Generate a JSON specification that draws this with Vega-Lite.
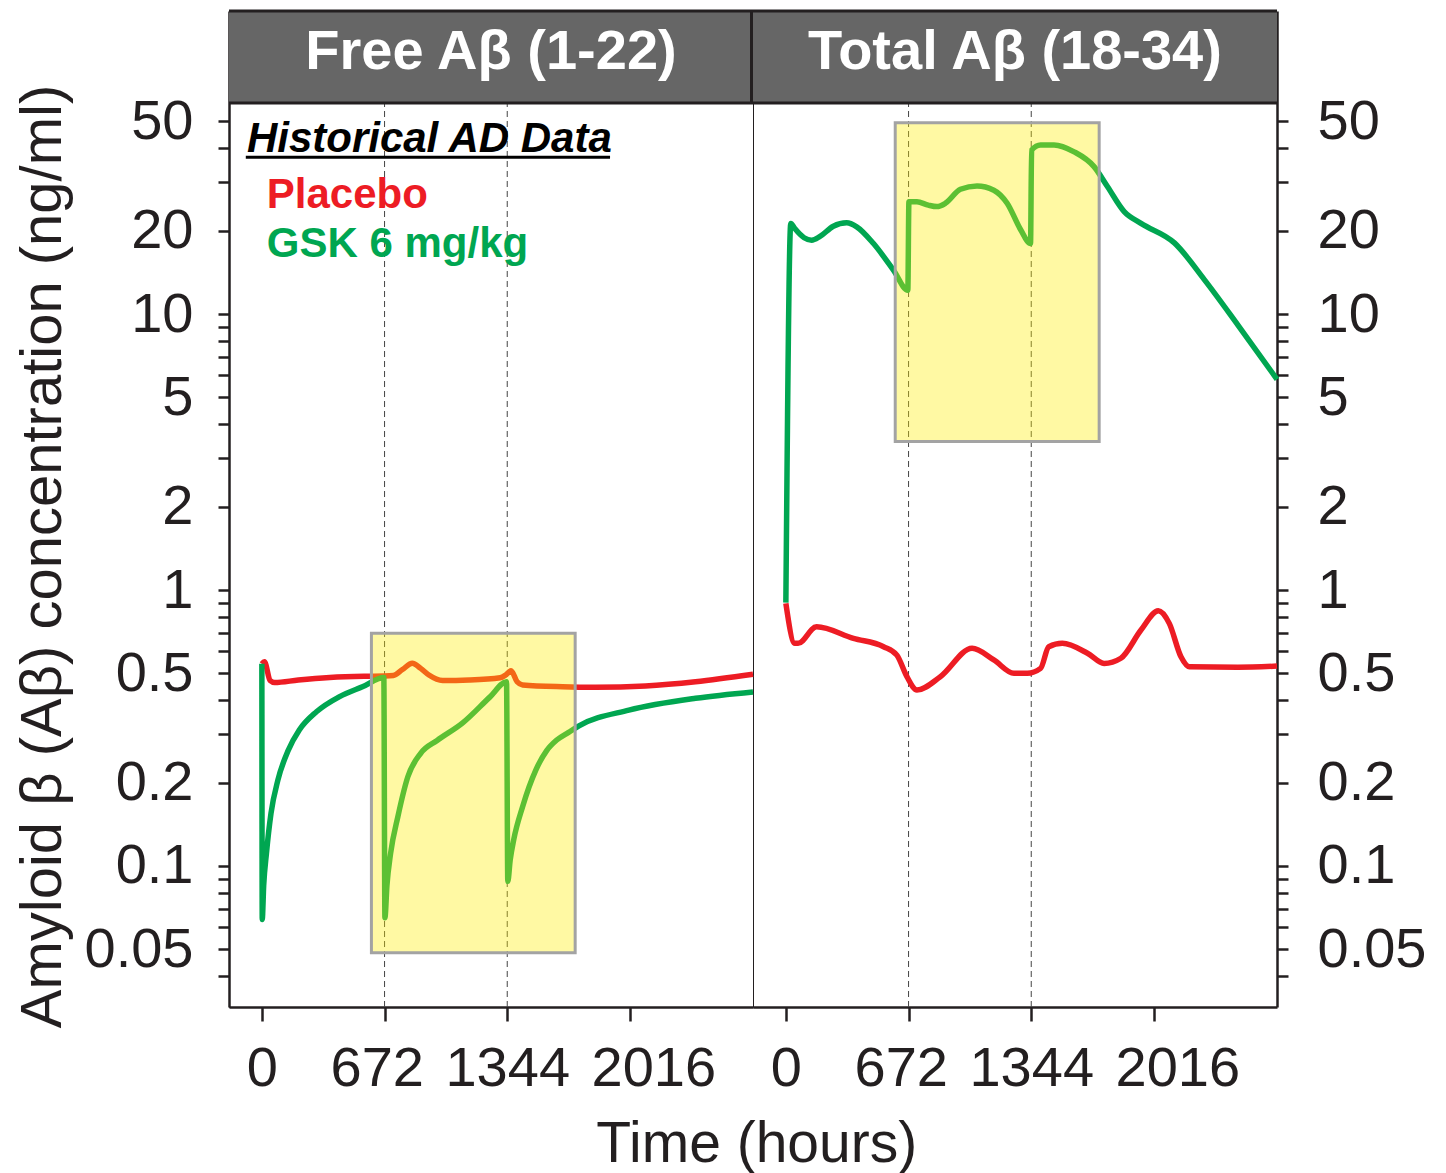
{
  "$schema": "https://vega.github.io/schema/vega-lite/v6.json",
  "padding": {"left": 13, "top": 9, "right": 5, "bottom": 5},
  "background": "white",
  "spacing": 0,
  "bounds": "flush",
  "title": {"text": "Time (hours)", "orient": "bottom", "anchor": "middle", "font": "Liberation Sans", "fontSize": 57, "fontWeight": "normal", "color": "#231f20", "offset": 20, "dx": 37},
  "config": {
    "font": "Liberation Sans",
    "concat": {"spacing": 0},
    "view": {"stroke": "#231f20", "strokeWidth": 1},
    "axis": {"grid": false, "domainColor": "#231f20", "domainWidth": 2.5, "tickColor": "#231f20", "tickWidth": 2.5, "labelColor": "#231f20", "labelFontSize": 56, "labelFont": "Liberation Sans", "titleFont": "Liberation Sans", "titleFontSize": 58, "titleFontWeight": "normal", "titleColor": "#231f20", "labelOverlap": false, "labelFlush": false}
  },
  "datasets": {
    "headers": [
      {"panel": "free", "label": "Free Aβ (1-22)"},
      {"panel": "total", "label": "Total Aβ (18-34)"}
    ],
    "vlines": [{"hours": 672}, {"hours": 1344}],
    "boxes": [
      {"panel": "free", "x1": 600, "x2": 1716, "y1": 0.0485, "y2": 0.697},
      {"panel": "total", "x1": 599, "x2": 1716, "y1": 3.45, "y2": 49.3}
    ],
    "heading": [{"hours": -82, "conc": 38.6, "text": "Historical AD Data", "series": "Historical AD Data"}],
    "underline": [{"hours": -88, "hours2": 1907, "conc": 37.0}],
    "keys": [
      {"hours": 27, "conc": 24.2, "text": "Placebo", "series": "Placebo"},
      {"hours": 27, "conc": 16.1, "text": "GSK 6 mg/kg", "series": "GSK 6 mg/kg"}
    ],
    "curves": [
      {"panel": "free", "series": "Placebo", "hours": 0, "conc": 0.54},
      {"panel": "free", "series": "Placebo", "hours": 14, "conc": 0.55},
      {"panel": "free", "series": "Placebo", "hours": 45, "conc": 0.47},
      {"panel": "free", "series": "Placebo", "hours": 70, "conc": 0.462},
      {"panel": "free", "series": "Placebo", "hours": 200, "conc": 0.472},
      {"panel": "free", "series": "Placebo", "hours": 372, "conc": 0.482},
      {"panel": "free", "series": "Placebo", "hours": 560, "conc": 0.487},
      {"panel": "free", "series": "Placebo", "hours": 672, "conc": 0.488},
      {"panel": "free", "series": "Placebo", "hours": 720, "conc": 0.49},
      {"panel": "free", "series": "Placebo", "hours": 770, "conc": 0.515},
      {"panel": "free", "series": "Placebo", "hours": 824, "conc": 0.543},
      {"panel": "free", "series": "Placebo", "hours": 870, "conc": 0.52},
      {"panel": "free", "series": "Placebo", "hours": 915, "conc": 0.492},
      {"panel": "free", "series": "Placebo", "hours": 990, "conc": 0.47},
      {"panel": "free", "series": "Placebo", "hours": 1136, "conc": 0.472},
      {"panel": "free", "series": "Placebo", "hours": 1305, "conc": 0.481},
      {"panel": "free", "series": "Placebo", "hours": 1335, "conc": 0.492},
      {"panel": "free", "series": "Placebo", "hours": 1365, "conc": 0.51},
      {"panel": "free", "series": "Placebo", "hours": 1398, "conc": 0.465},
      {"panel": "free", "series": "Placebo", "hours": 1428, "conc": 0.453},
      {"panel": "free", "series": "Placebo", "hours": 1646, "conc": 0.446},
      {"panel": "free", "series": "Placebo", "hours": 1828, "conc": 0.444},
      {"panel": "free", "series": "Placebo", "hours": 2101, "conc": 0.449},
      {"panel": "free", "series": "Placebo", "hours": 2375, "conc": 0.465},
      {"panel": "free", "series": "Placebo", "hours": 2690, "conc": 0.495},
      {"panel": "free", "series": "GSK 6 mg/kg", "hours": 0, "conc": 0.54},
      {"panel": "free", "series": "GSK 6 mg/kg", "hours": 2, "conc": 0.064},
      {"panel": "free", "series": "GSK 6 mg/kg", "hours": 10, "conc": 0.085},
      {"panel": "free", "series": "GSK 6 mg/kg", "hours": 25, "conc": 0.111},
      {"panel": "free", "series": "GSK 6 mg/kg", "hours": 50, "conc": 0.155},
      {"panel": "free", "series": "GSK 6 mg/kg", "hours": 88, "conc": 0.205},
      {"panel": "free", "series": "GSK 6 mg/kg", "hours": 145, "conc": 0.263},
      {"panel": "free", "series": "GSK 6 mg/kg", "hours": 205, "conc": 0.311},
      {"panel": "free", "series": "GSK 6 mg/kg", "hours": 299, "conc": 0.362},
      {"panel": "free", "series": "GSK 6 mg/kg", "hours": 426, "conc": 0.411},
      {"panel": "free", "series": "GSK 6 mg/kg", "hours": 554, "conc": 0.447},
      {"panel": "free", "series": "GSK 6 mg/kg", "hours": 668, "conc": 0.482},
      {"panel": "free", "series": "GSK 6 mg/kg", "hours": 674, "conc": 0.065},
      {"panel": "free", "series": "GSK 6 mg/kg", "hours": 685, "conc": 0.085},
      {"panel": "free", "series": "GSK 6 mg/kg", "hours": 705, "conc": 0.111},
      {"panel": "free", "series": "GSK 6 mg/kg", "hours": 745, "conc": 0.151},
      {"panel": "free", "series": "GSK 6 mg/kg", "hours": 800, "conc": 0.211},
      {"panel": "free", "series": "GSK 6 mg/kg", "hours": 870, "conc": 0.256},
      {"panel": "free", "series": "GSK 6 mg/kg", "hours": 960, "conc": 0.285},
      {"panel": "free", "series": "GSK 6 mg/kg", "hours": 1100, "conc": 0.33},
      {"panel": "free", "series": "GSK 6 mg/kg", "hours": 1250, "conc": 0.41},
      {"panel": "free", "series": "GSK 6 mg/kg", "hours": 1340, "conc": 0.465},
      {"panel": "free", "series": "GSK 6 mg/kg", "hours": 1347, "conc": 0.088},
      {"panel": "free", "series": "GSK 6 mg/kg", "hours": 1360, "conc": 0.105},
      {"panel": "free", "series": "GSK 6 mg/kg", "hours": 1380, "conc": 0.125},
      {"panel": "free", "series": "GSK 6 mg/kg", "hours": 1428, "conc": 0.164},
      {"panel": "free", "series": "GSK 6 mg/kg", "hours": 1501, "conc": 0.223},
      {"panel": "free", "series": "GSK 6 mg/kg", "hours": 1560, "conc": 0.262},
      {"panel": "free", "series": "GSK 6 mg/kg", "hours": 1615, "conc": 0.286},
      {"panel": "free", "series": "GSK 6 mg/kg", "hours": 1680, "conc": 0.305},
      {"panel": "free", "series": "GSK 6 mg/kg", "hours": 1737, "conc": 0.322},
      {"panel": "free", "series": "GSK 6 mg/kg", "hours": 2010, "conc": 0.367},
      {"panel": "free", "series": "GSK 6 mg/kg", "hours": 2375, "conc": 0.405},
      {"panel": "free", "series": "GSK 6 mg/kg", "hours": 2690, "conc": 0.427},
      {"panel": "total", "series": "Placebo", "hours": 0, "conc": 0.895},
      {"panel": "total", "series": "Placebo", "hours": 49, "conc": 0.641},
      {"panel": "total", "series": "Placebo", "hours": 67, "conc": 0.641},
      {"panel": "total", "series": "Placebo", "hours": 168, "conc": 0.736},
      {"panel": "total", "series": "Placebo", "hours": 370, "conc": 0.668},
      {"panel": "total", "series": "Placebo", "hours": 535, "conc": 0.623},
      {"panel": "total", "series": "Placebo", "hours": 608, "conc": 0.581},
      {"panel": "total", "series": "Placebo", "hours": 663, "conc": 0.485},
      {"panel": "total", "series": "Placebo", "hours": 718, "conc": 0.434},
      {"panel": "total", "series": "Placebo", "hours": 846, "conc": 0.485},
      {"panel": "total", "series": "Placebo", "hours": 1020, "conc": 0.615},
      {"panel": "total", "series": "Placebo", "hours": 1139, "conc": 0.558},
      {"panel": "total", "series": "Placebo", "hours": 1249, "conc": 0.499},
      {"panel": "total", "series": "Placebo", "hours": 1322, "conc": 0.499},
      {"panel": "total", "series": "Placebo", "hours": 1395, "conc": 0.52},
      {"panel": "total", "series": "Placebo", "hours": 1440, "conc": 0.623},
      {"panel": "total", "series": "Placebo", "hours": 1514, "conc": 0.641},
      {"panel": "total", "series": "Placebo", "hours": 1652, "conc": 0.59},
      {"panel": "total", "series": "Placebo", "hours": 1743, "conc": 0.542},
      {"panel": "total", "series": "Placebo", "hours": 1835, "conc": 0.566},
      {"panel": "total", "series": "Placebo", "hours": 1945, "conc": 0.716},
      {"panel": "total", "series": "Placebo", "hours": 2040, "conc": 0.841},
      {"panel": "total", "series": "Placebo", "hours": 2100, "conc": 0.757},
      {"panel": "total", "series": "Placebo", "hours": 2164, "conc": 0.573},
      {"panel": "total", "series": "Placebo", "hours": 2210, "conc": 0.527},
      {"panel": "total", "series": "Placebo", "hours": 2476, "conc": 0.525},
      {"panel": "total", "series": "Placebo", "hours": 2690, "conc": 0.53},
      {"panel": "total", "series": "GSK 6 mg/kg", "hours": 0, "conc": 0.9},
      {"panel": "total", "series": "GSK 6 mg/kg", "hours": 27, "conc": 21.3},
      {"panel": "total", "series": "GSK 6 mg/kg", "hours": 49, "conc": 20.4},
      {"panel": "total", "series": "GSK 6 mg/kg", "hours": 100, "conc": 18.9},
      {"panel": "total", "series": "GSK 6 mg/kg", "hours": 141, "conc": 18.5},
      {"panel": "total", "series": "GSK 6 mg/kg", "hours": 187, "conc": 19.1},
      {"panel": "total", "series": "GSK 6 mg/kg", "hours": 260, "conc": 20.8},
      {"panel": "total", "series": "GSK 6 mg/kg", "hours": 333, "conc": 21.4},
      {"panel": "total", "series": "GSK 6 mg/kg", "hours": 388, "conc": 20.7},
      {"panel": "total", "series": "GSK 6 mg/kg", "hours": 480, "conc": 18.0},
      {"panel": "total", "series": "GSK 6 mg/kg", "hours": 590, "conc": 14.4},
      {"panel": "total", "series": "GSK 6 mg/kg", "hours": 668, "conc": 12.2},
      {"panel": "total", "series": "GSK 6 mg/kg", "hours": 674, "conc": 25.5},
      {"panel": "total", "series": "GSK 6 mg/kg", "hours": 718, "conc": 25.5},
      {"panel": "total", "series": "GSK 6 mg/kg", "hours": 780, "conc": 24.8},
      {"panel": "total", "series": "GSK 6 mg/kg", "hours": 827, "conc": 24.5},
      {"panel": "total", "series": "GSK 6 mg/kg", "hours": 874, "conc": 25.2},
      {"panel": "total", "series": "GSK 6 mg/kg", "hours": 956, "conc": 28.3},
      {"panel": "total", "series": "GSK 6 mg/kg", "hours": 1047, "conc": 29.1},
      {"panel": "total", "series": "GSK 6 mg/kg", "hours": 1139, "conc": 28.1},
      {"panel": "total", "series": "GSK 6 mg/kg", "hours": 1212, "conc": 25.2},
      {"panel": "total", "series": "GSK 6 mg/kg", "hours": 1286, "conc": 20.2},
      {"panel": "total", "series": "GSK 6 mg/kg", "hours": 1340, "conc": 18.0},
      {"panel": "total", "series": "GSK 6 mg/kg", "hours": 1346, "conc": 39.3},
      {"panel": "total", "series": "GSK 6 mg/kg", "hours": 1395, "conc": 41.0},
      {"panel": "total", "series": "GSK 6 mg/kg", "hours": 1469, "conc": 41.0},
      {"panel": "total", "series": "GSK 6 mg/kg", "hours": 1579, "conc": 38.7},
      {"panel": "total", "series": "GSK 6 mg/kg", "hours": 1688, "conc": 34.2},
      {"panel": "total", "series": "GSK 6 mg/kg", "hours": 1762, "conc": 28.9},
      {"panel": "total", "series": "GSK 6 mg/kg", "hours": 1853, "conc": 23.5},
      {"panel": "total", "series": "GSK 6 mg/kg", "hours": 1945, "conc": 21.3},
      {"panel": "total", "series": "GSK 6 mg/kg", "hours": 2128, "conc": 18.1},
      {"panel": "total", "series": "GSK 6 mg/kg", "hours": 2293, "conc": 13.3},
      {"panel": "total", "series": "GSK 6 mg/kg", "hours": 2476, "conc": 9.12},
      {"panel": "total", "series": "GSK 6 mg/kg", "hours": 2690, "conc": 5.8}
    ]
  },
  "hconcat": [
    {
      "width": 524, "height": 996,
      "layer": [
        {
          "data": {"name": "vlines"},
          "mark": {"type": "rule", "strokeDash": [6, 4], "strokeWidth": 1, "color": "#444444"},
          "encoding": {
            "x": {"field": "hours", "type": "quantitative", "scale": {"domain": [-180, 2690], "nice": false, "zero": false}}
          }
        },
        {
          "data": {"name": "curves"},
          "transform": [{"filter": "datum.panel == 'free'"}],
          "mark": {"type": "line", "strokeWidth": 5.5, "interpolate": "monotone"},
          "encoding": {
            "x": {"field": "hours", "type": "quantitative", "scale": {"domain": [-180, 2690], "nice": false, "zero": false},
              "axis": {"values": [0, 672, 1344, 2016], "format": "d", "title": null, "tickSize": 14, "labelPadding": 20,
                "labelExpr": "datum.value == 2016 ? '\u200b\u00a0\u00a0\u00a02016' : datum.value == 672 ? '672\u00a0\u200b' : datum.label"}},
            "y": {"field": "conc", "type": "quantitative", "scale": {"type": "log", "domain": [0.03084, 125.28], "nice": false},
              "axis": {"orient": "left", "title": "Amyloid β (Aβ) concentration (ng/ml)", "titlePadding": 12, "titleY": 545,
                "values": [0.04, 0.05, 0.06, 0.07, 0.08, 0.09, 0.1, 0.2, 0.3, 0.4, 0.5, 0.6, 0.7, 0.8, 0.9, 1, 2, 3, 4, 5, 6, 7, 8, 9, 10, 20, 30, 40, 50],
                "labelExpr": "indexof([0.05, 0.1, 0.2, 0.5, 1, 2, 5, 10, 20, 50], datum.value) >= 0 ? datum.label : ''",
                "format": "~g",
                "tickSize": 11, "labelPadding": 25}},
            "color": {"field": "series", "type": "nominal", "scale": {"domain": ["Placebo", "GSK 6 mg/kg", "Historical AD Data"], "range": ["#ED1C24", "#00A651", "#000000"]}, "legend": null},
            "order": {"field": "hours", "type": "quantitative"}
          }
        },
        {
          "data": {"name": "boxes"},
          "transform": [{"filter": "datum.panel == 'free'"}],
          "mark": {"type": "rect", "fill": "#FFEE00", "fillOpacity": 0.36, "stroke": "#a3a3a3", "strokeWidth": 3},
          "encoding": {
            "x": {"field": "x1", "type": "quantitative", "scale": {"domain": [-180, 2690], "nice": false, "zero": false}},
            "x2": {"field": "x2"},
            "y": {"field": "y1", "type": "quantitative", "scale": {"type": "log", "domain": [0.03084, 125.28], "nice": false}},
            "y2": {"field": "y2"}
          }
        },
        {
          "data": {"name": "headers"},
          "transform": [{"filter": "datum.panel == 'free'"}],
          "mark": {"type": "rect", "fill": "#666666"},
          "encoding": {
            "x": {"datum": -180, "type": "quantitative", "scale": {"domain": [-180, 2690], "nice": false, "zero": false}},
            "x2": {"datum": 2690},
            "y": {"datum": 58.15, "type": "quantitative", "scale": {"type": "log", "domain": [0.03084, 125.28], "nice": false}},
            "y2": {"datum": 125.28}
          }
        },
        {
          "data": {"name": "headers"},
          "transform": [{"filter": "datum.panel == 'free'"}],
          "mark": {"type": "rule", "color": "#231f20", "strokeWidth": 3},
          "encoding": {
            "x": {"datum": -180, "type": "quantitative", "scale": {"domain": [-180, 2690], "nice": false, "zero": false}},
            "x2": {"datum": 2690},
            "y": {"datum": 58.15, "type": "quantitative", "scale": {"type": "log", "domain": [0.03084, 125.28], "nice": false}}
          }
        },
        {
          "data": {"name": "headers"},
          "transform": [{"filter": "datum.panel == 'free'"}],
          "mark": {"type": "rule", "color": "#231f20", "strokeWidth": 3},
          "encoding": {
            "x": {"datum": -180, "type": "quantitative", "scale": {"domain": [-180, 2690], "nice": false, "zero": false}},
            "x2": {"datum": 2690},
            "y": {"datum": 125.28, "type": "quantitative", "scale": {"type": "log", "domain": [0.03084, 125.28], "nice": false}}
          }
        },
        {
          "data": {"name": "headers"},
          "transform": [{"filter": "datum.panel == 'free'"}],
          "mark": {"type": "rule", "color": "#231f20", "strokeWidth": 3},
          "encoding": {
            "x": {"datum": 2681.8, "type": "quantitative", "scale": {"domain": [-180, 2690], "nice": false, "zero": false}},
            "y": {"datum": 58.15, "type": "quantitative", "scale": {"type": "log", "domain": [0.03084, 125.28], "nice": false}},
            "y2": {"datum": 125.28}
          }
        },
        {
          "data": {"name": "headers"},
          "transform": [{"filter": "datum.panel == 'free'"}],
          "mark": {"type": "text", "color": "white", "fontSize": 56, "fontWeight": "bold", "align": "center", "baseline": "middle", "font": "Liberation Sans"},
          "encoding": {
            "x": {"datum": 1255, "type": "quantitative", "scale": {"domain": [-180, 2690], "nice": false, "zero": false}},
            "y": {"datum": 89, "type": "quantitative", "scale": {"type": "log", "domain": [0.03084, 125.28], "nice": false}},
            "text": {"field": "label", "type": "nominal"}
          }
        },
        {
          "data": {"name": "heading"},
          "mark": {"type": "text", "fontSize": 42, "fontWeight": "bold", "fontStyle": "italic", "align": "left", "baseline": "alphabetic", "font": "Liberation Sans"},
          "encoding": {
            "x": {"field": "hours", "type": "quantitative", "scale": {"domain": [-180, 2690], "nice": false, "zero": false}},
            "y": {"field": "conc", "type": "quantitative", "scale": {"type": "log", "domain": [0.03084, 125.28], "nice": false}},
            "text": {"field": "text", "type": "nominal"},
            "color": {"field": "series", "type": "nominal", "scale": {"domain": ["Placebo", "GSK 6 mg/kg", "Historical AD Data"], "range": ["#ED1C24", "#00A651", "#000000"]}, "legend": null}
          }
        },
        {
          "data": {"name": "underline"},
          "mark": {"type": "rule", "strokeWidth": 3, "color": "#000000"},
          "encoding": {
            "x": {"field": "hours", "type": "quantitative", "scale": {"domain": [-180, 2690], "nice": false, "zero": false}},
            "x2": {"field": "hours2"},
            "y": {"field": "conc", "type": "quantitative", "scale": {"type": "log", "domain": [0.03084, 125.28], "nice": false}}
          }
        },
        {
          "data": {"name": "keys"},
          "mark": {"type": "text", "fontSize": 42, "fontWeight": "bold", "align": "left", "baseline": "alphabetic", "font": "Liberation Sans"},
          "encoding": {
            "x": {"field": "hours", "type": "quantitative", "scale": {"domain": [-180, 2690], "nice": false, "zero": false}},
            "y": {"field": "conc", "type": "quantitative", "scale": {"type": "log", "domain": [0.03084, 125.28], "nice": false}},
            "text": {"field": "text", "type": "nominal"},
            "color": {"field": "series", "type": "nominal", "scale": {"domain": ["Placebo", "GSK 6 mg/kg", "Historical AD Data"], "range": ["#ED1C24", "#00A651", "#000000"]}, "legend": null}
          }
        }
      ]
    },
    {
      "width": 524, "height": 996,
      "view": {"stroke": null},
      "layer": [
        {
          "data": {"name": "vlines"},
          "mark": {"type": "rule", "strokeDash": [6, 4], "strokeWidth": 1, "color": "#444444"},
          "encoding": {
            "x": {"field": "hours", "type": "quantitative", "scale": {"domain": [-180, 2690], "nice": false, "zero": false}}
          }
        },
        {
          "data": {"name": "curves"},
          "transform": [{"filter": "datum.panel == 'total'"}],
          "mark": {"type": "line", "strokeWidth": 5.5, "interpolate": "monotone"},
          "encoding": {
            "x": {"field": "hours", "type": "quantitative", "scale": {"domain": [-180, 2690], "nice": false, "zero": false},
              "axis": {"values": [0, 672, 1344, 2016], "format": "d", "title": null, "tickSize": 14, "labelPadding": 20,
                "labelExpr": "datum.value == 2016 ? '\u200b\u00a0\u00a0\u00a02016' : datum.value == 672 ? '672\u00a0\u200b' : datum.label"}},
            "y": {"field": "conc", "type": "quantitative", "scale": {"type": "log", "domain": [0.03084, 125.28], "nice": false},
              "axis": {"orient": "right", "title": null,
                "values": [0.04, 0.05, 0.06, 0.07, 0.08, 0.09, 0.1, 0.2, 0.3, 0.4, 0.5, 0.6, 0.7, 0.8, 0.9, 1, 2, 3, 4, 5, 6, 7, 8, 9, 10, 20, 30, 40, 50],
                "labelExpr": "indexof([0.05, 0.1, 0.2, 0.5, 1, 2, 5, 10, 20, 50], datum.value) >= 0 ? datum.label : ''",
                "format": "~g",
                "tickSize": 11, "labelPadding": 29}},
            "color": {"field": "series", "type": "nominal", "scale": {"domain": ["Placebo", "GSK 6 mg/kg", "Historical AD Data"], "range": ["#ED1C24", "#00A651", "#000000"]}, "legend": null},
            "order": {"field": "hours", "type": "quantitative"}
          }
        },
        {
          "data": {"name": "boxes"},
          "transform": [{"filter": "datum.panel == 'total'"}],
          "mark": {"type": "rect", "fill": "#FFEE00", "fillOpacity": 0.36, "stroke": "#a3a3a3", "strokeWidth": 3},
          "encoding": {
            "x": {"field": "x1", "type": "quantitative", "scale": {"domain": [-180, 2690], "nice": false, "zero": false}},
            "x2": {"field": "x2"},
            "y": {"field": "y1", "type": "quantitative", "scale": {"type": "log", "domain": [0.03084, 125.28], "nice": false}},
            "y2": {"field": "y2"}
          }
        },
        {
          "data": {"name": "headers"},
          "transform": [{"filter": "datum.panel == 'total'"}],
          "mark": {"type": "rect", "fill": "#666666"},
          "encoding": {
            "x": {"datum": -180, "type": "quantitative", "scale": {"domain": [-180, 2690], "nice": false, "zero": false}},
            "x2": {"datum": 2690},
            "y": {"datum": 58.15, "type": "quantitative", "scale": {"type": "log", "domain": [0.03084, 125.28], "nice": false}},
            "y2": {"datum": 125.28}
          }
        },
        {
          "data": {"name": "headers"},
          "transform": [{"filter": "datum.panel == 'total'"}],
          "mark": {"type": "rule", "color": "#231f20", "strokeWidth": 3},
          "encoding": {
            "x": {"datum": -180, "type": "quantitative", "scale": {"domain": [-180, 2690], "nice": false, "zero": false}},
            "x2": {"datum": 2690},
            "y": {"datum": 58.15, "type": "quantitative", "scale": {"type": "log", "domain": [0.03084, 125.28], "nice": false}}
          }
        },
        {
          "data": {"name": "headers"},
          "transform": [{"filter": "datum.panel == 'total'"}],
          "mark": {"type": "rule", "color": "#231f20", "strokeWidth": 3},
          "encoding": {
            "x": {"datum": -180, "type": "quantitative", "scale": {"domain": [-180, 2690], "nice": false, "zero": false}},
            "x2": {"datum": 2690},
            "y": {"datum": 125.28, "type": "quantitative", "scale": {"type": "log", "domain": [0.03084, 125.28], "nice": false}}
          }
        },
        {
          "data": {"name": "headers"},
          "transform": [{"filter": "datum.panel == 'total'"}],
          "mark": {"type": "text", "color": "white", "fontSize": 56, "fontWeight": "bold", "align": "center", "baseline": "middle", "font": "Liberation Sans"},
          "encoding": {
            "x": {"datum": 1255, "type": "quantitative", "scale": {"domain": [-180, 2690], "nice": false, "zero": false}},
            "y": {"datum": 89, "type": "quantitative", "scale": {"type": "log", "domain": [0.03084, 125.28], "nice": false}},
            "text": {"field": "label", "type": "nominal"}
          }
        }
      ]
    }
  ]
}
